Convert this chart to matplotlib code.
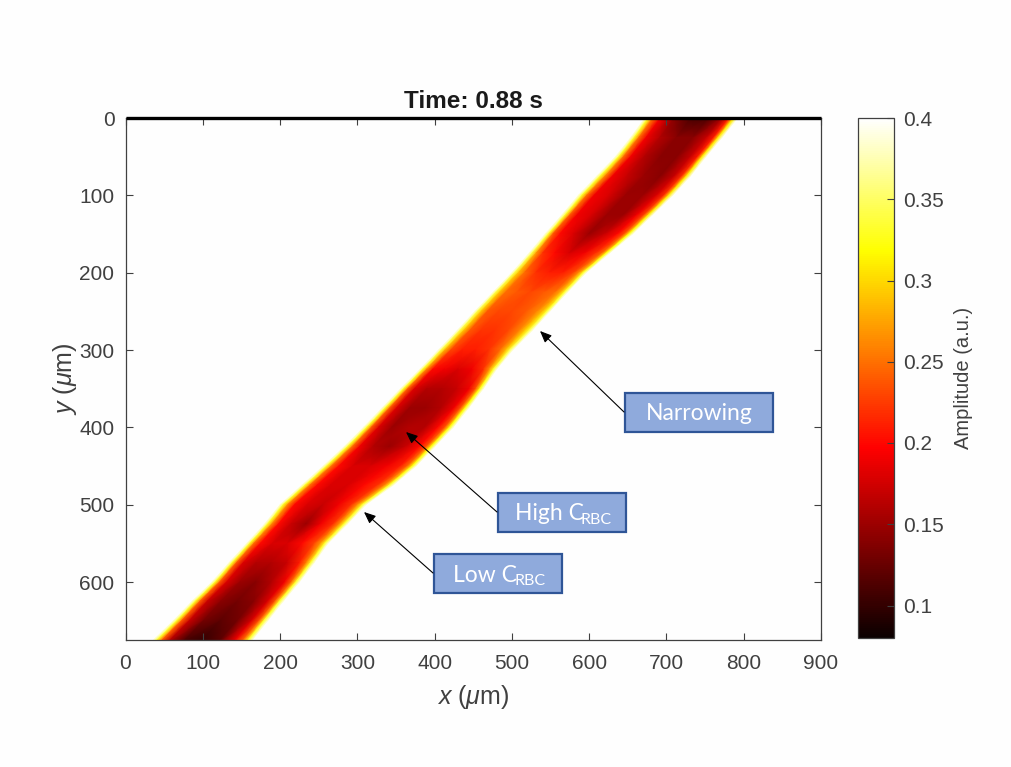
import numpy as np
import matplotlib
matplotlib.use('Agg')
import matplotlib.pyplot as plt
from matplotlib.patches import Rectangle

plt.rcParams['font.family'] = ['Liberation Sans', 'DejaVu Sans']
plt.rcParams['mathtext.fontset'] = 'custom'
plt.rcParams['mathtext.rm'] = 'Liberation Sans'
plt.rcParams['mathtext.it'] = 'Liberation Sans:italic'

# rows along the vessel
y_rows = [0, 25, 50, 75, 100, 125, 150, 175, 200, 225, 250, 275, 300, 325,
          350, 375, 400, 425, 450, 475, 500, 525, 550, 575, 600, 625, 650, 675]
left_edge = [672, 654, 634, 610, 586, 565, 543, 522, 500, 476, 452, 429, 405, 381,
             356, 332, 308, 283, 256, 228, 200, 180, 157, 134, 112, 86, 62, 36]
right_edge = [792, 772, 751, 731, 708, 682, 656, 626, 596, 572, 549, 526, 501, 480,
              463, 444, 424, 400, 376, 346, 311, 287, 262, 244, 225, 204, 184, 164]

# stations across the vessel (fraction of the width) and amplitude at each one
across = [0.0, 0.04, 0.09, 0.17, 0.32, 0.50, 0.68, 0.83, 0.91, 0.96, 1.0]
amp = [
    [0.39, 0.33, 0.25, 0.19, 0.14, 0.11, 0.11, 0.15, 0.21, 0.31, 0.39],
    [0.39, 0.33, 0.25, 0.19, 0.16, 0.14, 0.14, 0.17, 0.21, 0.31, 0.39],
    [0.39, 0.33, 0.25, 0.19, 0.16, 0.14, 0.14, 0.17, 0.21, 0.31, 0.39],
    [0.39, 0.33, 0.26, 0.19, 0.17, 0.15, 0.14, 0.17, 0.22, 0.31, 0.39],
    [0.39, 0.33, 0.25, 0.19, 0.18, 0.15, 0.15, 0.18, 0.22, 0.31, 0.39],
    [0.39, 0.33, 0.24, 0.19, 0.18, 0.15, 0.15, 0.19, 0.23, 0.31, 0.39],
    [0.39, 0.33, 0.24, 0.20, 0.18, 0.15, 0.17, 0.20, 0.24, 0.32, 0.39],
    [0.39, 0.34, 0.27, 0.22, 0.20, 0.18, 0.19, 0.22, 0.25, 0.32, 0.39],
    [0.39, 0.34, 0.29, 0.25, 0.22, 0.21, 0.21, 0.23, 0.27, 0.33, 0.39],
    [0.39, 0.34, 0.29, 0.25, 0.24, 0.23, 0.24, 0.25, 0.28, 0.33, 0.39],
    [0.39, 0.34, 0.29, 0.24, 0.23, 0.23, 0.24, 0.26, 0.29, 0.33, 0.39],
    [0.39, 0.34, 0.29, 0.24, 0.22, 0.22, 0.23, 0.26, 0.30, 0.34, 0.39],
    [0.39, 0.34, 0.28, 0.23, 0.21, 0.21, 0.22, 0.25, 0.29, 0.34, 0.39],
    [0.39, 0.33, 0.26, 0.20, 0.19, 0.18, 0.19, 0.22, 0.27, 0.33, 0.39],
    [0.39, 0.33, 0.24, 0.18, 0.16, 0.16, 0.17, 0.19, 0.24, 0.32, 0.39],
    [0.39, 0.33, 0.24, 0.18, 0.15, 0.15, 0.16, 0.19, 0.24, 0.32, 0.39],
    [0.39, 0.33, 0.24, 0.18, 0.15, 0.16, 0.16, 0.20, 0.24, 0.32, 0.39],
    [0.39, 0.33, 0.25, 0.19, 0.16, 0.15, 0.17, 0.20, 0.24, 0.32, 0.39],
    [0.39, 0.33, 0.25, 0.20, 0.18, 0.18, 0.19, 0.21, 0.25, 0.32, 0.39],
    [0.39, 0.33, 0.25, 0.20, 0.18, 0.18, 0.20, 0.22, 0.26, 0.33, 0.39],
    [0.39, 0.33, 0.26, 0.20, 0.18, 0.17, 0.19, 0.22, 0.27, 0.33, 0.39],
    [0.39, 0.33, 0.26, 0.20, 0.17, 0.15, 0.19, 0.22, 0.27, 0.33, 0.39],
    [0.39, 0.33, 0.25, 0.20, 0.18, 0.18, 0.20, 0.23, 0.27, 0.33, 0.39],
    [0.39, 0.33, 0.24, 0.18, 0.16, 0.16, 0.17, 0.21, 0.26, 0.33, 0.39],
    [0.39, 0.33, 0.24, 0.18, 0.15, 0.14, 0.16, 0.19, 0.25, 0.33, 0.39],
    [0.39, 0.33, 0.24, 0.17, 0.14, 0.13, 0.14, 0.18, 0.24, 0.33, 0.39],
    [0.39, 0.33, 0.24, 0.17, 0.13, 0.12, 0.13, 0.18, 0.24, 0.33, 0.39],
    [0.39, 0.33, 0.24, 0.16, 0.11, 0.10, 0.12, 0.19, 0.25, 0.33, 0.39],
]

x_ticks = [0, 100, 200, 300, 400, 500, 600, 700, 800, 900]
y_ticks = [0, 100, 200, 300, 400, 500, 600]
cbar_ticks = [0.1, 0.15, 0.2, 0.25, 0.3, 0.35, 0.4]
cbar_labels = ['0.1', '0.15', '0.2', '0.25', '0.3', '0.35', '0.4']

W, H = 1011.0, 767.0
GREY = '#404040'

fig = plt.figure(figsize=(W / 100, H / 100), dpi=100, facecolor='#fefefe')
ax = fig.add_axes([125.5 / W, 1 - 640 / H, 695.5 / W, 522 / H])
ax.set_facecolor('#fefefe')

# mesh that follows the vessel, edges and stations both from the lists above
frac = np.array(across)
X = np.array(left_edge)[:, None] + np.outer(np.array(right_edge) - np.array(left_edge), frac)
Y = np.repeat(np.array(y_rows)[:, None], len(across), axis=1)
mesh = ax.pcolormesh(X, Y, np.array(amp), cmap='hot', vmin=0.08, vmax=0.4, shading='gouraud')

ax.plot([0, 900], [0, 0], color='black', lw=2.4, clip_on=False, zorder=5, solid_capstyle='butt')

ax.set_xlim(0, 900)
ax.set_ylim(675, 0)
ax.set_xticks(x_ticks)
ax.set_yticks(y_ticks)
ax.tick_params(direction='in', length=5, width=0.8, color=GREY, labelcolor=GREY,
               labelsize=15, top=True, right=True)
ax.tick_params(axis='x', pad=10)
ax.tick_params(axis='y', pad=8)
for s in ax.spines.values():
    s.set_color(GREY)
    s.set_linewidth(0.9)
ax.set_title('Time: 0.88 s', fontsize=17.5, fontweight='bold', color='#1a1a1a', pad=7.5)
ax.set_xlabel(r'$\mathit{x}$ ($\mu$m)', fontsize=18, color=GREY, labelpad=7)
ax.set_ylabel(r'$\mathit{y}$ ($\mu$m)', fontsize=18, color=GREY, labelpad=0)

# colour bar
cax = fig.add_axes([858 / W, 1 - 638 / H, 35.5 / W, 520 / H])
cb = fig.colorbar(mesh, cax=cax)
cb.set_ticks(cbar_ticks)
cb.set_ticklabels(cbar_labels)
cb.ax.tick_params(direction='in', length=5, width=0.8, color=GREY, labelcolor=GREY,
                  labelsize=15, pad=7)
cb.outline.set_edgecolor(GREY)
cb.outline.set_linewidth(0.9)
cb.set_label('Amplitude (a.u.)', fontsize=14.5, color=GREY, labelpad=7)

# overlay in pixel coordinates for the pasted call-outs
ov = fig.add_axes([0, 0, 1, 1], facecolor='none')
ov.set_xlim(0, W)
ov.set_ylim(H, 0)
ov.axis('off')

boxes = [(625, 393, 148, 39), (497.5, 492.5, 128, 39), (433.5, 553.5, 128, 39)]
for bx, by, bw, bh in boxes:
    ov.add_patch(Rectangle((bx, by), bw, bh, facecolor='#8faadc', edgecolor='#2f5597', lw=1.6))

tkw = dict(color='white', family='Lato', va='center')
ov.text(699, 414, 'Narrowing', ha='center', fontsize=16.5, **tkw)
ov.text(515, 514, 'High C', ha='left', fontsize=16.5, **tkw)
ov.text(581, 520, 'RBC', ha='left', fontsize=11.5, **tkw)
ov.text(453, 575, 'Low C', ha='left', fontsize=16.5, **tkw)
ov.text(515, 581, 'RBC', ha='left', fontsize=11.5, **tkw)

arrows = [((624, 412), (540, 331)), ((497, 512), (406, 432)), ((433, 573), (364, 512))]
for start, end in arrows:
    ov.annotate('', xy=end, xytext=start,
                arrowprops=dict(arrowstyle='-|>,head_length=0.7,head_width=0.3', color='black',
                                lw=0.8, shrinkA=0, shrinkB=0))

fig.savefig('out.png', dpi=100, facecolor=fig.get_facecolor())
